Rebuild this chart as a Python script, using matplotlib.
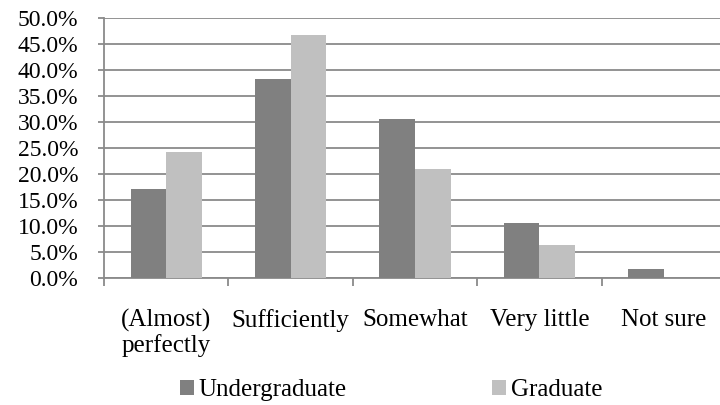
import matplotlib
matplotlib.use("Agg")
import matplotlib.pyplot as plt
import numpy as np
from matplotlib.ticker import FuncFormatter, FixedLocator

categories = ["(Almost)\nperfectly", "Sufficiently", "Somewhat", "Very little", "Not sure"]
undergraduate = [17.1, 38.4, 30.6, 10.5, 1.7]
graduate = [24.2, 46.8, 20.9, 6.3, 0.0]
series_names = ["Undergraduate", "Graduate"]
yticks = [0, 5, 10, 15, 20, 25, 30, 35, 40, 45, 50]

plt.rcParams['font.family'] = ['Liberation Serif', 'DejaVu Serif']

fig = plt.figure(figsize=(7.2, 4.05), dpi=100)
ax = fig.add_axes([104/720, 127/405, 622/720, 259.7/405])

grid_col = '#8a8a8a'
x = np.arange(len(categories))
w = 1/3.5
b1 = ax.bar(x - w/2, undergraduate, width=w, color='#808080', zorder=3, label=series_names[0])
b2 = ax.bar(x + w/2, graduate, width=w, color='#c0c0c0', zorder=3, label=series_names[1])

ax.set_xlim(-0.5, len(categories) - 0.5)
ax.set_ylim(0, 50)
ax.set_yticks(yticks)
ax.yaxis.set_major_formatter(FuncFormatter(lambda v, p: f"{v:.1f}%"))
ax.yaxis.grid(True, color=grid_col, linewidth=1.3, zorder=0)
ax.set_axisbelow(True)

ax.set_xticks(x)
ax.set_xticklabels(categories, fontsize=18, linespacing=1.15)
ax.tick_params(axis='x', which='major', length=0, pad=22)
ax.xaxis.set_minor_locator(FixedLocator(np.arange(len(categories) + 1) - 0.5))
ax.tick_params(axis='x', which='minor', length=6, width=1.3, color=grid_col, direction='out')
ax.tick_params(axis='y', which='major', length=4.5, width=1.3, color=grid_col,
               labelsize=17, pad=14)

for s in ['top', 'right']:
    ax.spines[s].set_visible(False)
for s in ['left', 'bottom']:
    ax.spines[s].set_color(grid_col)
    ax.spines[s].set_linewidth(1.3)

fig.legend(handles=[b1, b2], labels=series_names, loc='center',
           bbox_to_anchor=(391/720, 15/405), ncol=2, frameon=False, fontsize=18,
           handlelength=0.55, handleheight=0.55, handletextpad=0.2,
           columnspacing=5.8, borderpad=0, borderaxespad=0)

fig.savefig("out.png", dpi=100)
